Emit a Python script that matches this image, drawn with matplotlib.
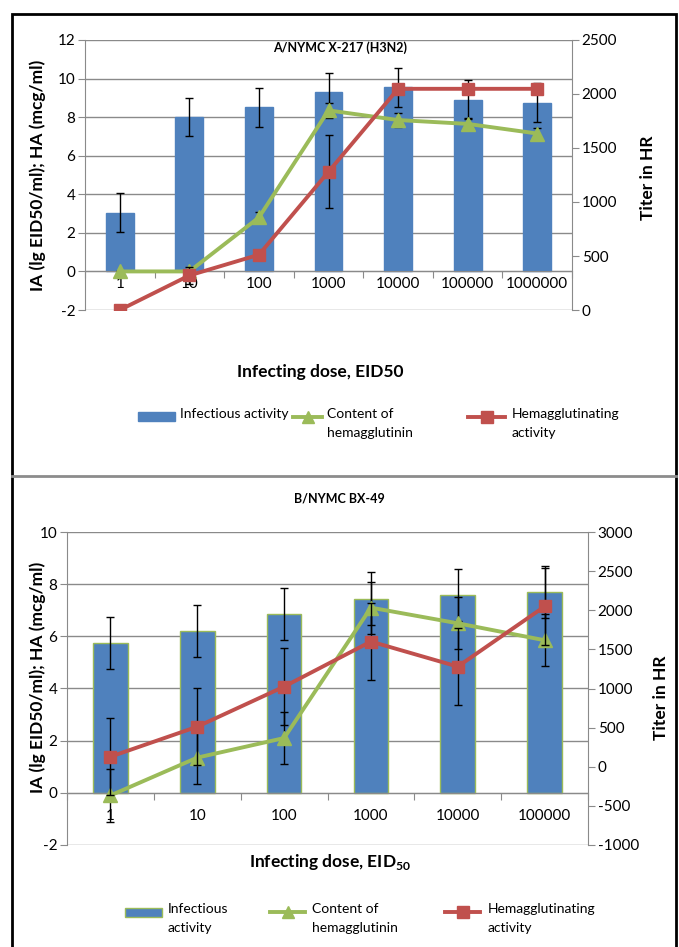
import matplotlib
matplotlib.use("Agg")
import matplotlib.pyplot as plt
import numpy as np
from matplotlib.lines import Line2D
from matplotlib.patches import Rectangle

plt.rcParams["font.family"] = ["Lato", "DejaVu Sans"]
plt.rcParams["mathtext.fontset"] = "custom"
plt.rcParams["mathtext.rm"] = "Lato"
plt.rcParams["mathtext.bf"] = "Lato:bold"
plt.rcParams["axes.unicode_minus"] = False

BLUE = "#4F81BD"
GREEN = "#9BBB59"
RED = "#C0504D"
GRID = "#8a8a8a"

# A/NYMC X-217 (H3N2)
doses_a = ["1", "10", "100", "1000", "10000", "100000", "1000000"]
ia_a = [3.05, 8.0, 8.5, 9.3, 9.55, 8.9, 8.75]
ia_err_a = [1.0, 1.0, 1.0, 1.0, 1.0, 1.0, 1.0]
ha_a = [0.0, 0.0, 2.8, 8.35, 7.85, 7.65, 7.15]
ha_err_a = [0.0, 0.0, 0.3, 0.4, 0.35, 0.3, 0.3]
hr_a = [0, 320, 512, 1280, 2048, 2048, 2048]
hr_err_a = [0, 80, 0, 340, 0, 0, 0]

# B/NYMC BX-49
doses_b = ["1", "10", "100", "1000", "10000", "100000"]
ia_b = [5.75, 6.2, 6.85, 7.45, 7.6, 7.7]
ia_err_b = [1.0, 1.0, 1.0, 1.0, 1.0, 1.0]
ha_b = [-0.1, 1.35, 2.1, 7.1, 6.5, 5.85]
ha_err_b = [1.0, 1.0, 1.0, 1.0, 1.0, 1.0]
hr_b = [128, 512, 1024, 1600, 1280, 2048]
hr_err_b = [490, 490, 490, 490, 490, 490]

W, H = 679, 947
fig = plt.figure(figsize=(W / 100, H / 100), dpi=100)


def px(x, y):
    """pixel position -> figure fraction"""
    return x / W, 1 - y / H


def panel(rect, doses, ia, ia_err, ha, ha_err, hr, hr_err,
          ylim, yticks, y2lim, y2ticks, xpad, bar_edge):
    l, t, r, b = rect
    ax = fig.add_axes([l / W, 1 - b / H, (r - l) / W, (b - t) / H])
    n = len(doses)
    x = np.arange(n)

    ax.bar(x, ia, width=0.4, color=BLUE,
           edgecolor=bar_edge if bar_edge else BLUE, linewidth=1, zorder=2)
    ax.errorbar(x, ia, yerr=ia_err, fmt="none", ecolor="black",
                elinewidth=1, capsize=3, capthick=1, zorder=3)
    ax.errorbar(x, ha, yerr=ha_err, fmt="none", ecolor="black",
                elinewidth=1, capsize=3, capthick=1, zorder=3)
    ax.plot(x, ha, color=GREEN, lw=2.8, marker="^", ms=10, zorder=4)

    ax.set_xlim(-0.5, n - 0.5)
    ax.set_ylim(*ylim)
    ax.set_yticks(yticks)
    ax.yaxis.grid(True, color=GRID, lw=1)
    ax.set_axisbelow(True)
    ax.spines["top"].set_visible(False)
    ax.spines["right"].set_visible(False)
    ax.spines["bottom"].set_position(("data", 0))
    for s in ("left", "bottom"):
        ax.spines[s].set_color(GRID)
    ax.set_xticks(np.arange(n + 1) - 0.5)
    ax.set_xticklabels([])
    ax.set_xticks(x, minor=True)
    ax.set_xticklabels(doses, minor=True)
    ax.tick_params(axis="x", which="major", direction="out", length=5,
                   color=GRID)
    ax.tick_params(axis="x", which="minor", length=0, pad=xpad,
                   labelsize=11)
    ax.tick_params(axis="y", direction="out", length=5, color=GRID,
                   pad=2, labelsize=11)

    ax2 = ax.twinx()
    ax2.errorbar(x, hr, yerr=hr_err, fmt="none", ecolor="black",
                 elinewidth=1, capsize=3, capthick=1, zorder=3)
    ax2.plot(x, hr, color=RED, lw=2.8, marker="s", ms=9, zorder=4)
    ax2.set_ylim(*y2lim)
    ax2.set_yticks(y2ticks)
    for s in ("top", "left", "bottom"):
        ax2.spines[s].set_visible(False)
    ax2.spines["right"].set_color(GRID)
    ax2.tick_params(axis="y", direction="out", length=5, color=GRID,
                    pad=2, labelsize=11)
    return ax, ax2


ax, ax2 = panel((85, 40, 572, 310), doses_a, ia_a, ia_err_a, ha_a, ha_err_a,
                hr_a, hr_err_a, (-2, 12), np.arange(-2, 13, 2),
                (0, 2500), np.arange(0, 2501, 500), 4, None)
ax.set_ylabel("IA (lg EID50/ml); HA (mcg/ml)", fontsize=12.5,
              fontweight="bold")
ax.yaxis.set_label_coords(-0.08, 0.5)
ax2.set_ylabel("Titer in HR", fontsize=12.5, fontweight="bold")
ax2.yaxis.set_label_coords(1.14, 0.49)

bx, bx2 = panel((67, 532, 588, 845), doses_b, ia_b, ia_err_b, ha_b, ha_err_b,
                hr_b, hr_err_b, (-2, 10), np.arange(-2, 11, 2),
                (-1000, 3000), np.arange(-1000, 3001, 500), 12, GREEN)
bx.set_ylabel("IA (lg EID50/ml); HA (mcg/ml)", fontsize=12.5,
              fontweight="bold")
bx.yaxis.set_label_coords(-0.04, 0.537)
bx2.set_ylabel("Titer in HR", fontsize=12.5, fontweight="bold")
bx2.yaxis.set_label_coords(1.125, 0.47)

fig.text(*px(340, 48), "A/NYMC X-217 (H3N2)", ha="center", va="center",
         fontsize=9, fontweight="bold")
fig.text(*px(339, 498), "B/NYMC BX-49", ha="center", va="center",
         fontsize=9, fontweight="bold")
fig.text(*px(320, 372), "Infecting dose, EID50", ha="center", va="center",
         fontsize=12.5, fontweight="bold")
fig.text(*px(330, 862), r"Infecting dose, EID$_{\mathbf{50}}$", ha="center",
         va="center", fontsize=12.5, fontweight="bold")


def legend_row(y, items):
    """Excel-style legend: handle at first text line, label may wrap."""
    for kind, x0, x1, tx, label in items:
        fx0, fy = px(x0, y)
        fx1, _ = px(x1, y)
        if kind == "bar":
            hh = 9 / H
            edge = GREEN if "\n" in label else BLUE
            fig.add_artist(Rectangle((fx0, fy - hh / 2), fx1 - fx0, hh,
                                     transform=fig.transFigure,
                                     facecolor=BLUE, edgecolor=edge, lw=1))
        else:
            color, marker, ms = (GREEN, "^", 9) if kind == "ha" else (RED, "s", 8)
            fig.add_artist(Line2D([fx0, fx1], [fy, fy], color=color, lw=2.8,
                                  transform=fig.transFigure))
            fig.add_artist(Line2D([(fx0 + fx1) / 2], [fy], color=color,
                                  marker=marker, ms=ms, lw=0,
                                  transform=fig.transFigure))
        fig.text(*px(tx, y - 9), label, ha="left", va="top", fontsize=10,
                 linespacing=1.7)


legend_row(417, [
    ("bar", 138, 175, 180, "Infectious activity"),
    ("ha", 293, 322, 327, "Content of\nhemagglutinin"),
    ("hr", 468, 505, 512, "Hemagglutinating\nactivity"),
])
legend_row(912, [
    ("bar", 125, 162, 168, "Infectious\nactivity"),
    ("ha", 270, 305, 312, "Content of\nhemagglutinin"),
    ("hr", 445, 480, 488, "Hemagglutinating\nactivity"),
])

# outer frame and divider between the two panels
fig.add_artist(Rectangle(px(12, 960), (676 - 12) / W, (960 - 14) / H,
                         transform=fig.transFigure, fill=False,
                         edgecolor="black", lw=2, zorder=0))
fig.add_artist(Line2D([12 / W, 676 / W], [1 - 476 / H] * 2, color="#8c8c8c",
                      lw=2, transform=fig.transFigure))

fig.savefig("out.png", dpi=100)
